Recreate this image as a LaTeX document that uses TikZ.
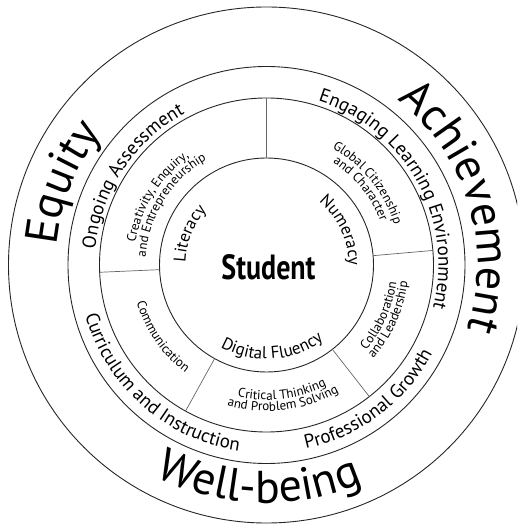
\documentclass[tikz,border=0pt]{standalone}
\usepackage{fontspec}
\setmainfont{PT Sans}
\usetikzlibrary{decorations.text}
\newcommand{\hugefont}{\fontsize{46}{46}\selectfont}
\newcommand{\ringfont}{\fontsize{19}{19}\selectfont}
\newcommand{\corefont}{\fontsize{17}{17}\selectfont}
\newcommand{\smallfont}{\fontsize{13}{13}\selectfont}
% text on a circle: font, radius, start angle, end angle, text
\newcommand{\ringtext}[5]{%
  \path[decorate, decoration={text along path, text align=center, text={|#1|#5}}]
    (#3:#2) arc[start angle=#3, end angle=#4, radius=#2];}
\tikzset{
  x=1pt, y=1pt, % one unit is one pixel of the reference
  ring/.style={draw=black!85, line width=0.9pt}, % the four circles
  divider/.style={draw=black!60, line width=0.7pt}, % radial lines of the middle ring
  student/.style={font=\bfseries\fontsize{35}{35}\selectfont, inner sep=0pt},
}
\begin{document}
\begin{tikzpicture}
  \useasboundingbox (-266.5,-261) rectangle (250.5,265);
  \clip (-266.5,-261) rectangle (250.5,265);
  \foreach \r in {107,167,198.5,258}
    \draw[ring] (0,0) circle[radius=\r];
  \foreach \a in {90,5,-52,-119,182.5}
    \draw[divider] (\a:107) -- (\a:167);
  \node[student] (student) at (2,-2) {\scalebox{0.8}[1]{Student}};
  % inner circle
  \ringtext{\corefont}{81}{218}{98}{Literacy}
  \ringtext{\corefont}{82}{85}{-35}{Numeracy}
  \ringtext{\corefont}{94}{214}{334}{Digital Fluency}
  % middle ring
  \ringtext{\smallfont}{133}{208}{88}{Creativity, Enquiry,}
  \ringtext{\smallfont}{121}{208}{88}{and Entrepreneurship}
  \ringtext{\smallfont}{134}{99}{-21}{Global Citizenship}
  \ringtext{\smallfont}{122}{99}{-21}{and Character}
  \ringtext{\smallfont}{131}{-84}{36}{Collaboration}
  \ringtext{\smallfont}{142}{-84}{36}{and Leadership}
  \ringtext{\smallfont}{135}{217}{337}{Critical Thinking}
  \ringtext{\smallfont}{146}{217}{337}{and Problem Solving}
  \ringtext{\smallfont}{135}{154.5}{274.5}{Communication}
  % practice ring
  \ringtext{\ringfont}{172}{206.5}{86.5}{Ongoing Assessment}
  \ringtext{\ringfont}{172}{89}{-31}{Engaging Learning Environment}
  \ringtext{\ringfont}{188}{-113}{7}{Professional Growth}
  \ringtext{\ringfont}{188}{168.5}{288.5}{Curriculum and Instruction}
  % outer ring
  \ringtext{\hugefont}{211}{218}{98}{Equity}
  \ringtext{\hugefont}{211}{77}{-43}{Achievement}
  \ringtext{\hugefont}{238}{208}{328}{Well-being}
\end{tikzpicture}
\end{document}
